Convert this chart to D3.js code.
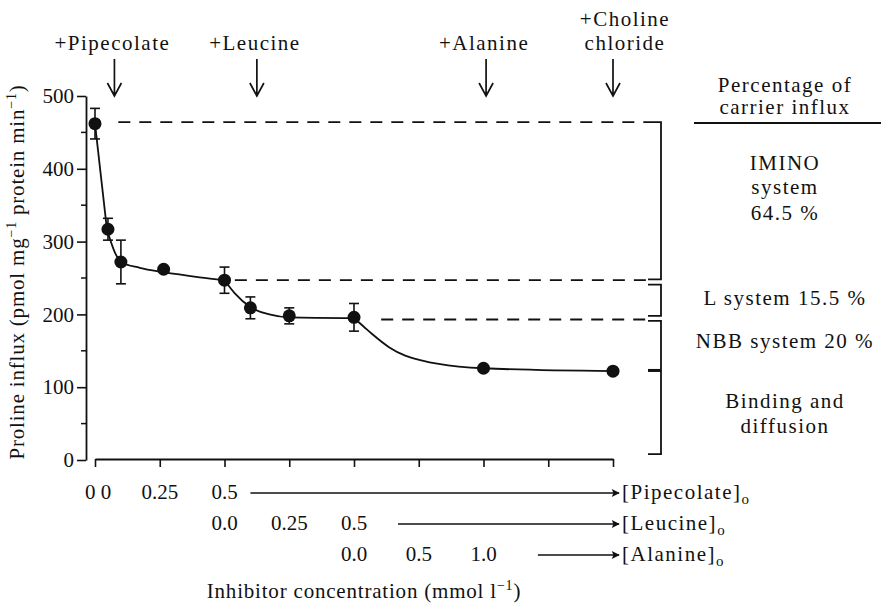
<!DOCTYPE html>
<html>
<head>
<meta charset="utf-8">
<script src="https://cdn.jsdelivr.net/npm/d3@7/dist/d3.min.js"></script>
<style>
body { margin: 0; background: #fff; }
svg text { font-family: "Liberation Serif", "Times New Roman", serif; font-size: 21px; fill: #111; }
.word { letter-spacing: 1.5px; }
.tight { letter-spacing: 0.8px; }
</style>
</head>
<body>
<div id="chart"></div>
<script>
// measured proline influx; x is position along the stacked inhibitor axis
// (0-0.5 pipecolate, 0.5-1.0 leucine, 1.0-1.5 alanine, 2.0 choline chloride)
var xPos   = [0, 0.05, 0.1, 0.265, 0.5, 0.6, 0.75, 1.0, 1.5, 2.0];
var influx = [462, 317, 272, 262, 247, 209, 198, 196, 126, 122];
var sem    = [21, 15, 30, 0, 18, 15, 11, 19, 0, 0];

// fitted curve, in pieces that meet at a corner
var fitPieces = [
  { pos: [0, 0.046], val: [462, 317] },
  { pos: [0.046, 0.077, 0.1, 0.173, 0.265, 0.404, 0.5], val: [317, 285, 272, 264, 258, 251, 247] },
  { pos: [0.5, 0.54, 0.6, 0.673, 0.75, 1.0], val: [247, 229, 210, 200, 196, 195] },
  { pos: [1.0, 1.038, 1.07, 1.135, 1.2, 1.26, 1.327, 1.5, 2.0], val: [195, 183, 173, 155, 143, 137, 132, 126, 122] }
];

// dashed plateau levels and where they start
var levels     = [464, 247, 193];
var levelStart = [0.09, 0.54, 1.105];

// right-hand brackets (influx values)
var bracketTop    = [464, 241, 191];
var bracketBottom = [248, 198, 8];
var bracketMid    = 123;

// additions marked by arrows at the top
var addLabels = [["+Pipecolate"], ["+Leucine"], ["+Alanine"], ["+Choline", "chloride"]];
var addPos    = [0.075, 0.625, 1.51, 2.0];

// concentration rows under the axis
var rowNames  = ["Pipecolate", "Leucine", "Alanine"];
var rowTicks  = [[0, 0.25, 0.5], [0, 0.25, 0.5], [0, 0.5, 1.0]];
var rowLabels = [["0 0", "0.25", "0.5"], ["0.0", "0.25", "0.5"], ["0.0", "0.5", "1.0"]];
var rowOffset = [0, 0.5, 1.0];
var rowFactor = [1, 1, 0.5];

var yTicks = [0, 100, 200, 300, 400, 500];
var yMinor = [50, 150, 250, 350, 450];

var width = 881, height = 604;
var svg = d3.select("#chart").append("svg").attr("width", width).attr("height", height);

var x = d3.scaleLinear().domain([0, 2]).range([95, 613]);
var y = d3.scaleLinear().domain([0, 500]).range([460, 96]);

var ink = "#111";

// y axis
var yAxis = svg.append("g").attr("transform", "translate(86,0)")
  .call(d3.axisLeft(y).tickValues(yTicks).tickSize(9).tickSizeOuter(0).tickPadding(3).tickFormat(d3.format("d")));
yAxis.select(".domain").attr("stroke", ink).attr("stroke-width", 1.8);
yAxis.selectAll(".tick line").attr("stroke", ink).attr("stroke-width", 1.6);
yAxis.selectAll(".tick text").style("font-size", "21px");
svg.append("g").selectAll("line").data(yMinor).enter().append("line")
  .attr("x1", 81).attr("x2", 86)
  .attr("y1", function(d) { return y(d); }).attr("y2", function(d) { return y(d); })
  .attr("stroke", ink).attr("stroke-width", 1.5);

// x axis (no numbers, the rows below carry them)
var xAxis = svg.append("g").attr("transform", "translate(0,459)")
  .call(d3.axisBottom(x).tickValues(d3.range(0, 2.01, 0.25)).tickSize(8).tickSizeOuter(0).tickFormat(""));
xAxis.select(".domain").attr("stroke", ink).attr("stroke-width", 1.8);
xAxis.selectAll(".tick line").attr("stroke", ink).attr("stroke-width", 1.6);

// y label
var yl = svg.append("text").attr("class", "tight")
  .attr("transform", "translate(24,272) rotate(-90)")
  .attr("text-anchor", "middle");
yl.append("tspan").text("Proline influx (pmol mg");
yl.append("tspan").attr("dy", -8).style("font-size", "14px").text("−1");
yl.append("tspan").attr("dy", 8).text(" protein min");
yl.append("tspan").attr("dy", -8).style("font-size", "14px").text("−1");
yl.append("tspan").attr("dy", 8).text(")");

// dashed plateaus
svg.append("g").selectAll("line").data(levels).enter().append("line")
  .attr("x1", function(d, i) { return x(levelStart[i]); })
  .attr("x2", 650)
  .attr("y1", function(d) { return y(d); }).attr("y2", function(d) { return y(d); })
  .attr("stroke", ink).attr("stroke-width", 1.8).attr("stroke-dasharray", "12,9");

// brackets
var bx = 661;
var br = svg.append("g").attr("fill", "none").attr("stroke", ink).attr("stroke-width", 1.8);
bracketTop.forEach(function(t, i) {
  var bTop = y(t), bBot = y(bracketBottom[i]);
  br.append("path").attr("d", "M" + (i == 0 ? 650 : 648) + "," + bTop + "H" + bx + "V" + bBot + "H648");
});
br.append("path").attr("d", "M648," + y(bracketMid) + "H" + bx).attr("stroke-width", 3);

// fitted curve
var line = d3.line().curve(d3.curveMonotoneX);
fitPieces.forEach(function(p) {
  var pts = p.pos.map(function(d, i) { return [x(d), y(p.val[i])]; });
  svg.append("path").attr("d", line(pts))
    .attr("fill", "none").attr("stroke", ink).attr("stroke-width", 1.8);
});

// error bars
var eb = svg.append("g").attr("stroke", ink).attr("stroke-width", 1.6);
influx.forEach(function(v, i) {
  if (!sem[i]) return;
  var cx = x(xPos[i]);
  eb.append("line").attr("x1", cx).attr("x2", cx).attr("y1", y(v + sem[i])).attr("y2", y(v - sem[i]));
  eb.append("line").attr("x1", cx - 5).attr("x2", cx + 5).attr("y1", y(v + sem[i])).attr("y2", y(v + sem[i]));
  eb.append("line").attr("x1", cx - 5).attr("x2", cx + 5).attr("y1", y(v - sem[i])).attr("y2", y(v - sem[i]));
});

// points
svg.append("g").selectAll("circle").data(influx).enter().append("circle")
  .attr("cx", function(d, i) { return x(xPos[i]); })
  .attr("cy", function(d) { return y(d); })
  .attr("r", 6.5).attr("fill", ink);

// additions at the top
addPos.forEach(function(p, i) {
  var ax = x(p);
  var lines = addLabels[i];
  var tx = ax + (lines.length > 1 ? 12 : -2);
  var t = svg.append("text").attr("class", "word").attr("text-anchor", "middle");
  lines.forEach(function(s, j) {
    t.append("tspan").attr("x", tx).attr("y", 50 - (lines.length - 1 - j) * 24).text(s);
  });
  svg.append("path")
    .attr("d", "M" + ax + ",59V96M" + (ax - 7) + ",83L" + ax + ",96L" + (ax + 7) + ",83")
    .attr("fill", "none").attr("stroke", ink).attr("stroke-width", 1.7);
});

// concentration rows
var defs = svg.append("defs");
defs.append("marker").attr("id", "head").attr("viewBox", "0 0 10 10")
  .attr("refX", 9).attr("refY", 5).attr("markerWidth", 10).attr("markerHeight", 8)
  .attr("markerUnits", "userSpaceOnUse").attr("orient", "auto")
  .append("path").attr("d", "M0,0L10,5L0,10L2,5Z").attr("fill", ink);

var rowBase = [499, 530, 561];
var arrowStart = [0.6, 1.17, 1.71];
rowNames.forEach(function(name, r) {
  var g = svg.append("g");
  g.selectAll("text.tk").data(rowTicks[r]).enter().append("text")
    .attr("x", function(d) { return x(rowOffset[r] + d * rowFactor[r]) + (r == 0 && d == 0 ? 3 : 0); })
    .attr("y", rowBase[r]).attr("text-anchor", "middle")
    .text(function(d, i) { return rowLabels[r][i]; });
  g.append("line")
    .attr("x1", x(arrowStart[r])).attr("x2", 619)
    .attr("y1", rowBase[r] - 6).attr("y2", rowBase[r] - 6)
    .attr("stroke", ink).attr("stroke-width", 1.6).attr("marker-end", "url(#head)");
  var t = g.append("text").attr("class", "word").attr("x", 622).attr("y", rowBase[r]);
  t.append("tspan").text("[" + name + "]");
  t.append("tspan").attr("dy", 5).style("font-size", "15px").text("o");
});

// x label
var xl = svg.append("text").attr("class", "tight").attr("x", 364).attr("y", 598).attr("text-anchor", "middle");
xl.append("tspan").text("Inhibitor concentration (mmol l");
xl.append("tspan").attr("dy", -8).style("font-size", "14px").text("−1");
xl.append("tspan").attr("dy", 8).text(")");

// right-hand legend
var rx = 785;
var legendText = [
  ["Percentage of", 92], ["carrier influx", 114],
  ["IMINO", 170], ["system", 194], ["64.5 %", 220],
  ["L system 15.5 %", 305],
  ["NBB system 20 %", 348],
  ["Binding and", 408], ["diffusion", 433]
];
svg.append("g").selectAll("text").data(legendText).enter().append("text")
  .attr("class", "word").attr("text-anchor", "middle")
  .attr("x", rx).attr("y", function(d) { return d[1]; })
  .text(function(d) { return d[0]; });
svg.append("line").attr("x1", 694).attr("x2", 881).attr("y1", 123).attr("y2", 123)
  .attr("stroke", ink).attr("stroke-width", 1.8);
</script>
</body>
</html>
